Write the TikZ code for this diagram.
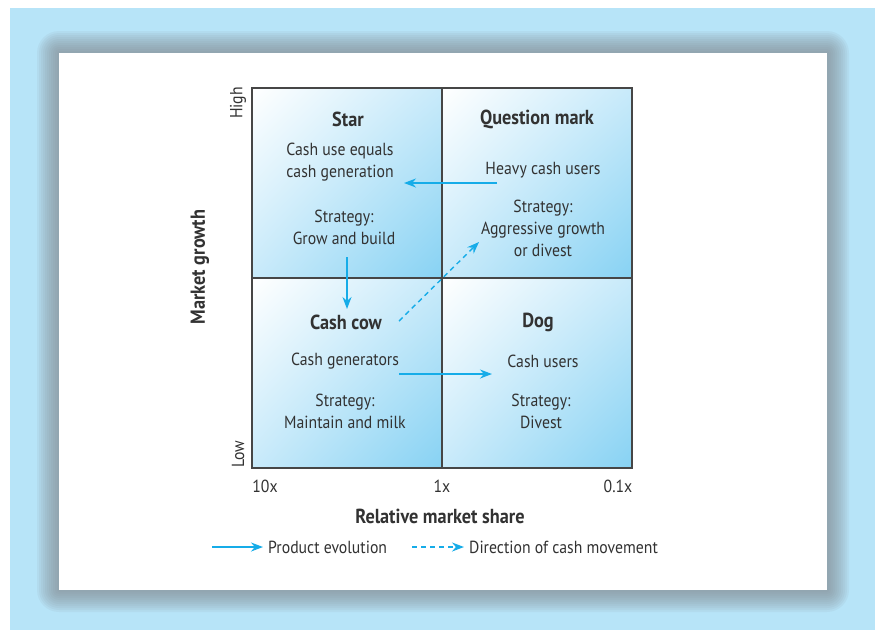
\documentclass[tikz,border=0pt]{standalone}
\usepackage{fontspec}
\setmainfont[FakeStretch=0.9]{PT Sans}
\usetikzlibrary{arrows.meta,calc,shadings}
\definecolor{skyback}{RGB}{183,228,248}
\definecolor{cellblue}{RGB}{135,210,243}
\definecolor{cellpale}{RGB}{200,234,250}
\definecolor{arrowcyan}{RGB}{22,172,232}
\definecolor{inkgray}{RGB}{50,50,50}
\definecolor{gridgray}{RGB}{70,70,70}
\definecolor{shadowgray}{RGB}{130,135,140}

\begin{document}
\begin{tikzpicture}[x=1pt, y=-1pt,
  every node/.style={font=\fontsize{17.5}{22}\selectfont, text=inkgray, inner sep=0pt, align=center},
  quadtitle/.style={font=\fontsize{20.3}{22}\selectfont\bfseries},
  evolve/.style={arrowcyan, line width=1.4pt, -{Stealth[length=12pt,width=9pt]}},
  cashflow/.style={evolve, dash pattern=on 5pt off 4pt}]
  \useasboundingbox (0,0) rectangle (877,630);

  % sky blue page and the shadow round the white panel
  \fill[white] (0,0) rectangle (877,630);
  \fill[skyback] (10,8) rectangle (875,630);
  \foreach \s in {22,20,...,2} {
    \fill[shadowgray, opacity=0.085, rounded corners=\s pt] (59-\s,53-\s) rectangle (827+\s,590+\s);
  }
  \fill[white] (59,53) rectangle (827,590);

  % Growth-share grid
  \def\gx{252}
  \def\gy{88}
  \def\cell{190}
  \foreach \i/\j in {0/0,1/0,0/1,1/1} {
    \shade[upper left=white, lower right=cellblue, upper right=cellpale, lower left=cellpale]
      (\gx+\i*\cell,\gy+\j*\cell) rectangle ++(\cell,\cell);
  }
  \draw[gridgray, line width=1.3pt] (\gx,\gy) rectangle ++(2*\cell,2*\cell);
  \draw[gridgray, line width=1.3pt] (\gx+\cell,\gy) -- ++(0,2*\cell);
  \draw[gridgray, line width=1.3pt] (\gx,\gy+\cell) -- ++(2*\cell,0);

  % quadrant texts
  \node[quadtitle] (star) at (348,119) {Star};
  \node (starcash) at (340,162) {Cash use equals\\cash generation};
  \node (starplan) at (344,227) {Strategy:\\Grow and build};

  \node[quadtitle] (question) at (537,119) {Question mark};
  \node (questioncash) at (543,170) {Heavy cash users};
  \node (questionplan) at (543,228) {Strategy:\\Aggressive growth\\or divest};

  \node[quadtitle] (cow) at (346,322) {Cash cow};
  \node (cowcash) at (345,361) {Cash generators};
  \node (cowplan) at (345,411) {Strategy:\\Maintain and milk};

  \node[quadtitle] (dog) at (538,322) {Dog};
  \node (dogcash) at (543,361) {Cash users};
  \node (dogplan) at (541,411) {Strategy:\\Divest};

  % axes
  \node[rotate=90] (high) at (238,103) {High};
  \node[rotate=90] (low) at (238,454) {Low};
  \node[quadtitle, rotate=90] (growth) at (200,267) {Market growth};
  \node (tenx) at (265,486) {10x};
  \node (onex) at (442,486) {1x};
  \node (tenthx) at (618,486) {0.1x};
  \node[quadtitle] (share) at (440,516) {Relative market share};

  % movements between quadrants
  \coordinate (qmTail) at (497,183);
  \coordinate (qmTip) at (404,183);
  \coordinate (starTail) at (347,257);
  \coordinate (starTip) at (347,309);
  \coordinate (cowTail) at (399,374);
  \coordinate (cowTip) at (492,374);
  \coordinate (cashTail) at (399,321);
  \coordinate (cashTip) at (479,242);
  \draw[evolve] (qmTail) -- (qmTip);
  \draw[evolve] (starTail) -- (starTip);
  \draw[evolve] (cowTail) -- (cowTip);
  \draw[cashflow] (cashTail) -- (cashTip);

  % legend
  \node[anchor=west] (evolvetext) at (268,547) {Product evolution};
  \node[anchor=west] (cashtext) at (469,547) {Direction of cash movement};
  \coordinate (evolveTail) at (212,547);
  \coordinate (cashLegTail) at (412,547);
  \draw[evolve] (evolveTail) -- ([xshift=-5pt]evolvetext.west);
  \draw[cashflow] (cashLegTail) -- ([xshift=-5pt]cashtext.west);
\end{tikzpicture}
\end{document}
